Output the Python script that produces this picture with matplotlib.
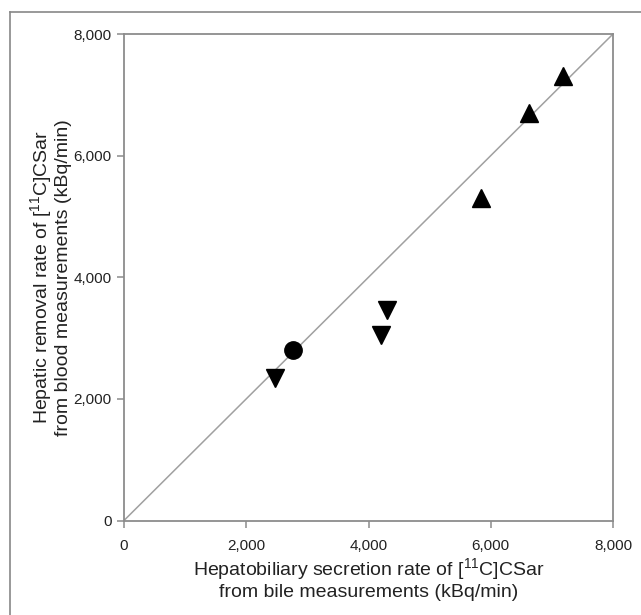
import matplotlib
matplotlib.use("Agg")
import matplotlib.pyplot as plt
from matplotlib.ticker import FuncFormatter
from matplotlib.lines import Line2D

plt.rcParams['font.family'] = ['Liberation Sans', 'DejaVu Sans']
plt.rcParams['mathtext.fontset'] = 'custom'
plt.rcParams['mathtext.rm'] = 'Liberation Sans'
plt.rcParams['mathtext.it'] = 'Liberation Sans'

# Data (kBq/min)
up_x = [5840, 6630, 7180]
up_y = [5300, 6700, 7310]
down_x = [2470, 4200, 4310]
down_y = [2350, 3050, 3460]
circle_x = [2770]
circle_y = [2800]
identity = [0, 8000]
ticks = [0, 2000, 4000, 6000, 8000]

fig = plt.figure(figsize=(6.41, 6.15), dpi=100)
ax = fig.add_axes([124/641, 1-520.5/615, (613-124)/641, (520.5-34)/615])

ax.plot(identity, identity, color='#a0a0a0', lw=1.1, zorder=1)
ax.plot(up_x, up_y, linestyle='none', marker='^', ms=13, color='black', zorder=3)
ax.plot(down_x, down_y, linestyle='none', marker='v', ms=13, color='black', zorder=3)
ax.plot(circle_x, circle_y, linestyle='none', marker='o', ms=12.5, color='black', zorder=3)

ax.set_xlim(0, 8000)
ax.set_ylim(0, 8000)
ax.set_xticks(ticks)
ax.set_yticks(ticks)
fmt = FuncFormatter(lambda v, p: f"{int(v):,}")
ax.xaxis.set_major_formatter(fmt)
ax.yaxis.set_major_formatter(fmt)
for s in ax.spines.values():
    s.set_color('#8c8c8c')
    s.set_linewidth(1.3)
ax.tick_params(direction='out', length=5, width=1.1, color='#8c8c8c',
               labelsize=11, labelcolor='#222222')
ax.tick_params(axis='x', pad=8)
ax.tick_params(axis='y', pad=4)

ax.set_xlabel("Hepatobiliary secretion rate of [$^{11}$C]CSar\nfrom bile measurements (kBq/min)",
              fontsize=14, color='#222222', linespacing=1.1)
ax.set_ylabel("Hepatic removal rate of [$^{11}$C]CSar\nfrom blood measurements (kBq/min)",
              fontsize=14, color='#222222', linespacing=1.1)
ax.xaxis.set_label_coords(0.5, -0.074)
ax.yaxis.set_label_coords(-0.106, 0.5)

# outer frame (only top and left edges visible in the image)
fig.add_artist(Line2D([9.5/641, 9.5/641], [0, 1-11.5/615], transform=fig.transFigure,
                      color='#888888', lw=1.2))
fig.add_artist(Line2D([9.5/641, 1], [1-11.5/615, 1-11.5/615], transform=fig.transFigure,
                      color='#888888', lw=1.2))

fig.savefig("out.png", dpi=100)
